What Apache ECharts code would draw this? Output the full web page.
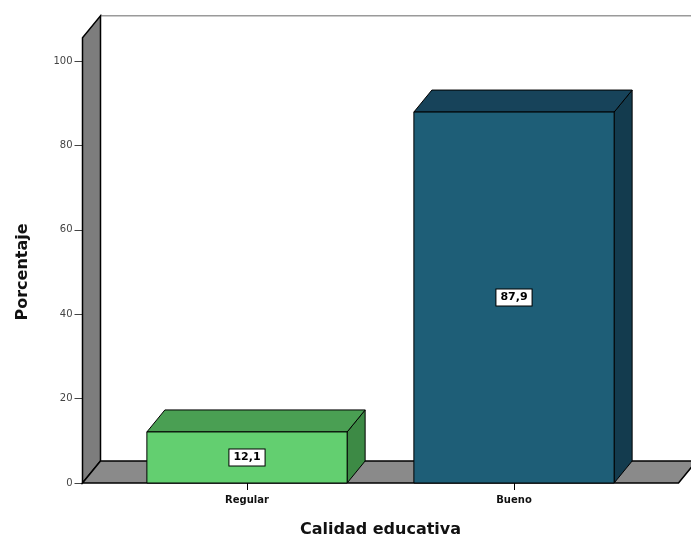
<!DOCTYPE html>
<html>
<head>
<meta charset="utf-8">
<script src="https://cdn.jsdelivr.net/npm/echarts@6/dist/echarts.min.js"></script>
<style>
  html, body { margin: 0; padding: 0; background: #ffffff; }
  #chart { width: 691px; height: 544px; }
</style>
</head>
<body>
<div id="chart"></div>
<script>
// Calidad educativa: porcentaje por categoría
const categories = ['Regular', 'Bueno'];
const percentages = [12.1, 87.9];
const yTicks = [0, 20, 40, 60, 80, 100];

// drawing constants for the 3D look
const DEPTH_X = 18;      // horizontal depth offset of boxes, floor and wall
const DEPTH_Y = 22;      // vertical depth offset
const SIDE_PAD = 31;     // floor/wall extension beyond the category bands
const WALL_TOP = 105.5;  // value reached by the front edge of the wall
const barColors = [
  { front: '#63cf70', top: '#4a9f53', side: '#3d8a45' },
  { front: '#1e5e77', top: '#17435a', side: '#133b4e' }
];

const chart = echarts.init(document.getElementById('chart'), null, { renderer: 'canvas' });

function fmt(v) {
  return v.toFixed(1).replace('.', ',');
}

// floor, wall and back panel drawn from the grid's own coordinates
function renderFrame(params, api) {
  const cs = params.coordSys;
  const y0 = api.coord([0, 0])[1];
  const yTop = api.coord([0, WALL_TOP])[1];
  const xl = cs.x - SIDE_PAD;
  const xr = cs.x + cs.width + SIDE_PAD;
  const children = [
    // back panel top border
    { type: 'line', shape: { x1: xl + DEPTH_X, y1: yTop - DEPTH_Y, x2: xr + DEPTH_X + 40, y2: yTop - DEPTH_Y },
      style: { stroke: '#9a9a9a', lineWidth: 1.5 } },
    // left wall
    { type: 'polygon', shape: { points: [[xl, y0], [xl, yTop], [xl + DEPTH_X, yTop - DEPTH_Y], [xl + DEPTH_X, y0 - DEPTH_Y]] },
      style: { fill: '#7d7d7d', stroke: '#000', lineWidth: 1.5 } },
    // floor
    { type: 'polygon', shape: { points: [[xl, y0], [xr, y0], [xr + DEPTH_X, y0 - DEPTH_Y], [xl + DEPTH_X, y0 - DEPTH_Y]] },
      style: { fill: '#8a8a8a', stroke: '#000', lineWidth: 1.5 } }
  ];
  return { type: 'group', children: children };
}

function renderBar(params, api) {
  const idx = api.value(0);
  const val = api.value(1);
  const top = api.coord([idx, val]);
  const base = api.coord([idx, 0]);
  const w = api.size([1, 0])[0] * 0.75;
  const x0 = top[0] - w / 2;
  const x1 = top[0] + w / 2;
  const yT = top[1];
  const yB = base[1];
  const c = barColors[params.dataIndex];
  const edge = { stroke: '#000', lineWidth: 1 };
  return {
    type: 'group',
    children: [
      { type: 'polygon', shape: { points: [[x1, yT], [x1 + DEPTH_X, yT - DEPTH_Y], [x1 + DEPTH_X, yB - DEPTH_Y], [x1, yB]] },
        style: Object.assign({ fill: c.side }, edge) },
      { type: 'polygon', shape: { points: [[x0, yT], [x1, yT], [x1 + DEPTH_X, yT - DEPTH_Y], [x0 + DEPTH_X, yT - DEPTH_Y]] },
        style: Object.assign({ fill: c.top }, edge) },
      { type: 'rect', shape: { x: x0, y: yT, width: w, height: yB - yT },
        style: Object.assign({ fill: c.front }, edge) },
      { type: 'text', x: top[0], y: (yT + yB) / 2,
        style: {
          text: fmt(val), align: 'center', verticalAlign: 'middle',
          font: 'bold 11px "DejaVu Sans", sans-serif', fill: '#000',
          backgroundColor: '#fff', borderColor: '#000', borderWidth: 1,
          padding: [3, 4, 2, 4]
        } }
    ]
  };
}

chart.setOption({
  backgroundColor: '#ffffff',
  animation: false,
  grid: { left: 113.5, right: 43.5, top: 61, bottom: 61, containLabel: false },
  xAxis: {
    type: 'category',
    data: categories,
    axisLine: { show: false },
    axisTick: { show: true, alignWithLabel: true, length: 7, lineStyle: { color: '#000', width: 1 } },
    axisLabel: { margin: 12, fontSize: 10, fontWeight: 'bold', color: '#111', fontFamily: 'DejaVu Sans' },
    splitLine: { show: false },
    name: 'Calidad educativa',
    nameLocation: 'middle',
    nameGap: 39,
    nameTextStyle: { fontSize: 16, fontWeight: 'bold', color: '#111', fontFamily: 'DejaVu Sans' }
  },
  yAxis: {
    type: 'value',
    min: yTicks[0],
    max: yTicks[yTicks.length - 1],
    interval: yTicks[1] - yTicks[0],
    offset: SIDE_PAD,
    axisLine: { show: false },
    axisTick: { show: true, length: 8, lineStyle: { color: '#444', width: 1 } },
    axisLabel: { margin: 10, fontSize: 10, color: '#444', fontFamily: 'DejaVu Sans' },
    splitLine: { show: false },
    name: 'Porcentaje',
    nameLocation: 'middle',
    nameGap: 52,
    nameRotate: 90,
    nameTextStyle: { fontSize: 16, fontWeight: 'bold', color: '#111', fontFamily: 'DejaVu Sans' }
  },
  series: [
    {
      type: 'custom',
      renderItem: renderFrame,
      data: [[0, 0]],
      clip: false,
      silent: true,
      z: 1
    },
    {
      type: 'custom',
      renderItem: renderBar,
      data: categories.map((c, i) => [i, percentages[i]]),
      encode: { x: 0, y: 1 },
      clip: false,
      z: 2
    }
  ]
});
</script>
</body>
</html>
